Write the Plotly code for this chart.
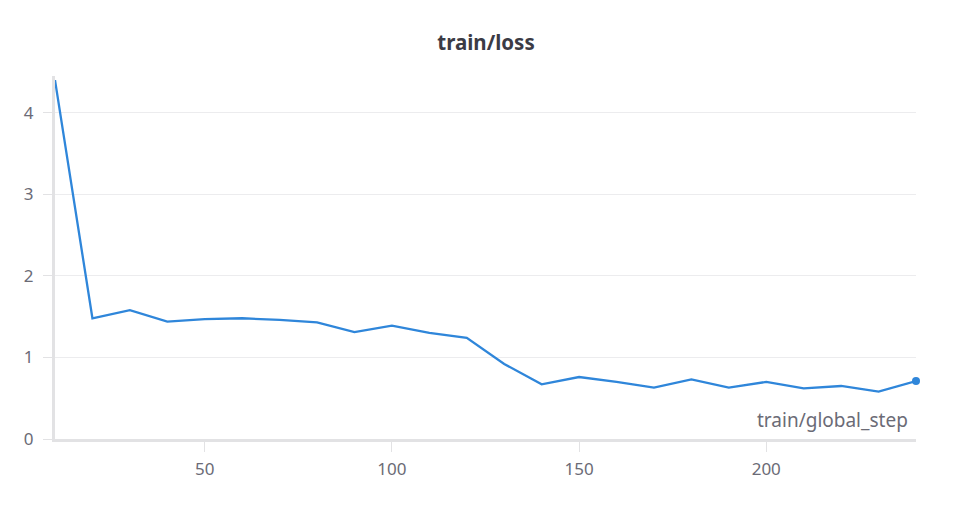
import plotly.graph_objs as go

steps = [10, 20, 30, 40, 50, 60, 70, 80, 90, 100, 110, 120,
         130, 140, 150, 160, 170, 180, 190, 200, 210, 220, 230, 240]
loss = [4.40, 1.48, 1.58, 1.44, 1.47, 1.48, 1.46, 1.43, 1.31, 1.39, 1.30, 1.24,
        0.92, 0.67, 0.76, 0.70, 0.63, 0.73, 0.63, 0.70, 0.62, 0.65, 0.58, 0.71]

blue = "#2f86da"
tick_font = dict(family="Noto Sans", size=17, color="#6b6b76")

trace = go.Scatter(x=steps, y=loss, mode="lines", line=dict(color=blue, width=2.3),
                   showlegend=False)
last = go.Scatter(x=[steps[-1]], y=[loss[-1]], mode="markers",
                  marker=dict(color=blue, size=8), cliponaxis=False, showlegend=False)

# page body has an 8px margin, so the figure is sized/offset to compensate
layout = go.Layout(
    width=956, height=498,
    paper_bgcolor="white", plot_bgcolor="white",
    margin=dict(l=47, r=48, t=68, b=67),
    title=dict(text="<b>train/loss</b>", x=0.5, xanchor="center", y=0.93, yanchor="middle",
               font=dict(family="Noto Sans", size=20.5, color="#3b3b45")),
    xaxis=dict(range=[10, 240], tickvals=[50, 100, 150, 200], showgrid=False,
               showline=True, linecolor="#e2e2e4", linewidth=3,
               ticks="outside", ticklen=10, tickcolor="#e2e2e4", tickwidth=1,
               ticklabelstandoff=3,
               tickfont=tick_font, zeroline=False),
    yaxis=dict(range=[0, 4.45], tickvals=[0, 1, 2, 3, 4], showgrid=True,
               gridcolor="#ececee", gridwidth=1,
               showline=True, linecolor="#e2e2e4", linewidth=3,
               ticks="outside", ticklen=9, tickcolor="#e2e2e4", tickwidth=1,
               ticklabelstandoff=6,
               tickfont=tick_font, zeroline=False),
    annotations=[dict(text="train/global_step", xref="paper", yref="paper",
                      x=0.993, y=0.01, xanchor="right", yanchor="bottom", showarrow=False,
                      font=dict(family="Noto Sans", size=19, color="#6b6b76"))],
)

fig = go.Figure(data=[trace, last], layout=layout)
fig.write_html("out.html")
